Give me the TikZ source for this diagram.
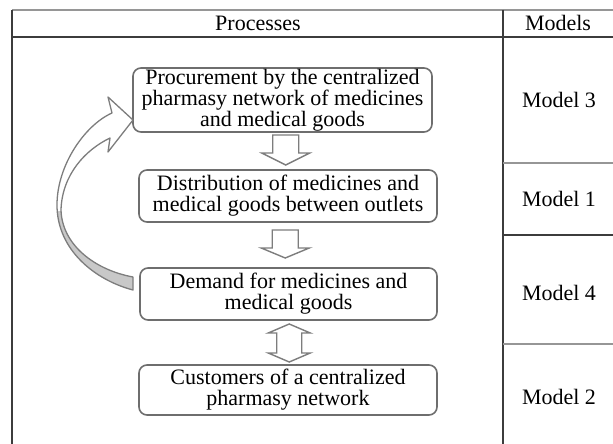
\documentclass[tikz,border=0pt]{standalone}
\usepackage{fontspec}
\setmainfont{Liberation Serif}
\usetikzlibrary{calc}
\definecolor{boxline}{RGB}{110,110,110}
\definecolor{arrline}{RGB}{125,125,125}
\definecolor{arrfill}{RGB}{200,200,200}
\definecolor{tabdark}{RGB}{60,60,60}
\definecolor{tablight}{RGB}{150,150,150}
\tikzset{
  procbox/.style={draw=boxline, line width=1.6pt, rounded corners=8pt, fill=white,
    inner sep=0pt, align=center, font=\fontsize{22}{21}\selectfont},
  modellabel/.style={inner sep=0pt, font=\fontsize{22}{21}\selectfont},
  blockarrow/.style={draw=arrline, line width=1.4pt, fill=white, line join=miter},
  darkrule/.style={draw=tabdark, line width=1.2pt},
  lightrule/.style={draw=tablight, line width=1.8pt},
}
\begin{document}
\begin{tikzpicture}[x=1pt,y=-1pt]
\useasboundingbox (0,0) rectangle (613,444);
% table
\draw[lightrule] (12,10) -- (613,10);
\draw[darkrule] (12,37) -- (613,37);
\draw[darkrule] (12,10) -- (12,444);
\draw[darkrule] (503,10) -- (503,444);
\draw[lightrule] (503,163) -- (613,163);
\draw[darkrule] (503,235) -- (613,235);
\draw[lightrule] (503,344) -- (613,344);
\node[modellabel] (hproc) at (258,23) {Processes};
\node[modellabel] (hmod) at (558,23) {Models};
\node[modellabel] (m3) at (559,100) {Model 3};
\node[modellabel] (m1) at (559,199) {Model 1};
\node[modellabel] (m4) at (559,293) {Model 4};
\node[modellabel] (m2) at (559,397) {Model 2};
% boxes
\node[procbox, minimum width=299pt, minimum height=64pt] (b1) at (282.5,100)
  {Procurement by the centralized\\pharmasy network of medicines\\and medical goods};
\node[procbox, minimum width=298pt, minimum height=52pt] (b2) at (288,196)
  {Distribution of medicines and\\medical goods between outlets};
\node[procbox, minimum width=297pt, minimum height=52pt] (b3) at (288.5,294)
  {Demand for medicines and\\medical goods};
\node[procbox, minimum width=298pt, minimum height=50pt] (b4) at (288,390)
  {Customers of a centralized\\pharmasy network};
% block arrows
\coordinate (a1) at ($(b1.south)!0.5!(b2.north)+(0.5,-1)$);
\draw[blockarrow] ([shift={(-13,-15)}]a1) -- ++(26,0) -- ++(0,18) -- ++(11,0)
  -- ++(-24,12) -- ++(-24,-12) -- ++(11,0) -- cycle;
\coordinate (a2) at ($(b2.south)!0.5!(b3.north)+(-3,-1)$);
\draw[blockarrow] ([shift={(-13,-14)}]a2) -- ++(26,0) -- ++(0,18) -- ++(11,0)
  -- ++(-24,10) -- ++(-24,-10) -- ++(11,0) -- cycle;
\coordinate (a3) at ($(b3.south)!0.5!(b4.north)+(1,0.5)$);
\draw[blockarrow] ([shift={(0,-19)}]a3) -- ++(21,9) -- ++(-8.5,0) -- ++(0,20)
  -- ++(8.5,0) -- ++(-21,9) -- ++(-21,-9) -- ++(8.5,0) -- ++(0,-20) -- ++(-8.5,0) -- cycle;
% curved feedback arrow
\def\ribbon{(112,113) -- (108,97) -- (133,120) -- (108,152) -- (110,138)
  .. controls (85,150) and (62,175) .. (61,210)
  .. controls (62,245) and (95,270) .. (133,277) -- (133,290)
  .. controls (95,280) and (57,250) .. (57,205)
  .. controls (57,165) and (85,125) .. (112,113) -- cycle}
\fill[white] \ribbon;
\begin{scope}
  \clip (0,211) rectangle (140,300);
  \fill[arrfill] \ribbon;
\end{scope}
\draw[arrline, line width=1.3pt, line join=round] \ribbon;
\end{tikzpicture}
\end{document}
